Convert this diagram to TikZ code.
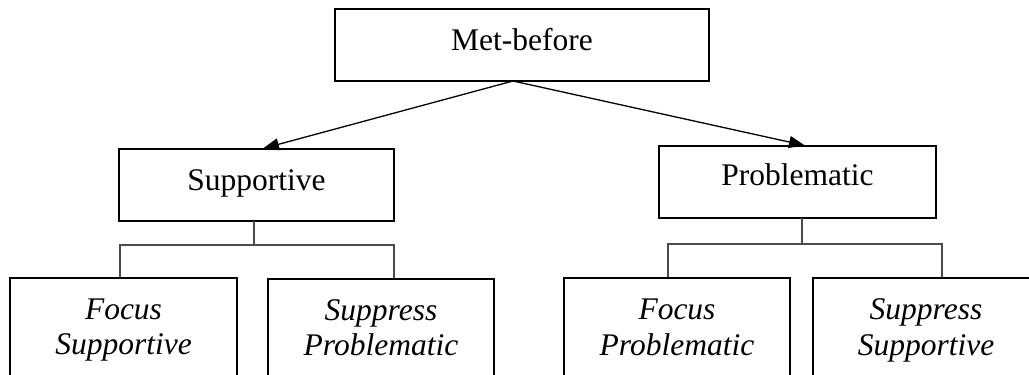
\documentclass[tikz,border=0pt]{standalone}
\usepackage{fontspec}
\setmainfont{Liberation Serif}
\usetikzlibrary{arrows.meta}
\tikzset{
  box/.style={draw=black, line width=2.6pt, inner sep=0pt, fill=white},
  lbl/.style={inner sep=0pt, anchor=base, font=\fontsize{31.5}{37}\selectfont},
  leaflbl/.style={inner sep=0pt, anchor=base, align=center, font=\fontsize{31.5}{35.5}\selectfont\itshape},
  arr/.style={line width=1.3pt, -{Triangle[length=16pt,width=12pt]}},
  brk/.style={line width=1.1pt, draw=black!70}
}
\begin{document}
\begin{tikzpicture}[x=1pt,y=-1pt]
\useasboundingbox (0,0) rectangle (1029,375);
\clip (0,0) rectangle (1029,375);
% boxes
\node[box, minimum width=374pt, minimum height=72pt] (mb) at (522,45) {};
\node[lbl] (mbt) at (522,50) {Met-before};
\node[box, minimum width=275pt, minimum height=72pt] (sup) at (256.5,185) {};
\node[lbl] (supt) at (256.5,190) {Supportive};
\node[box, minimum width=277pt, minimum height=72pt] (prob) at (797.5,182) {};
\node[lbl] (probt) at (797.5,185) {Problematic};
\node[box, minimum width=227pt, minimum height=140pt] (fs) at (123.5,348) {};
\node[leaflbl] (fst) at (123.5,354.5) {Focus\\Supportive};
\node[box, minimum width=226pt, minimum height=140pt] (sp) at (381,349) {};
\node[leaflbl] (spt) at (381,355.5) {Suppress\\Problematic};
\node[box, minimum width=226pt, minimum height=140pt] (fp) at (677,348) {};
\node[leaflbl] (fpt) at (677,355) {Focus\\Problematic};
\node[box, minimum width=226pt, minimum height=140pt] (ss) at (926,348) {};
\node[leaflbl] (sst) at (926,355) {Suppress\\Supportive};
% arrows
\coordinate (mbo) at (513,81);
\draw[arr] (mbo) -- (263,148.5);
\draw[arr] (mbo) -- (805,145.5);
% brackets
\coordinate (sjL) at (120,245);
\coordinate (sjR) at (394,245);
\draw[brk] (254,221) -- (254,245);
\draw[brk] (sjL |- fs.north) -- (sjL) -- (sjR) -- (sjR |- sp.north);
\coordinate (pjL) at (668,244);
\coordinate (pjR) at (942,244);
\draw[brk] (802,218) -- (802,244);
\draw[brk] (pjL |- fp.north) -- (pjL) -- (pjR) -- (pjR |- ss.north);
\end{tikzpicture}
\end{document}
